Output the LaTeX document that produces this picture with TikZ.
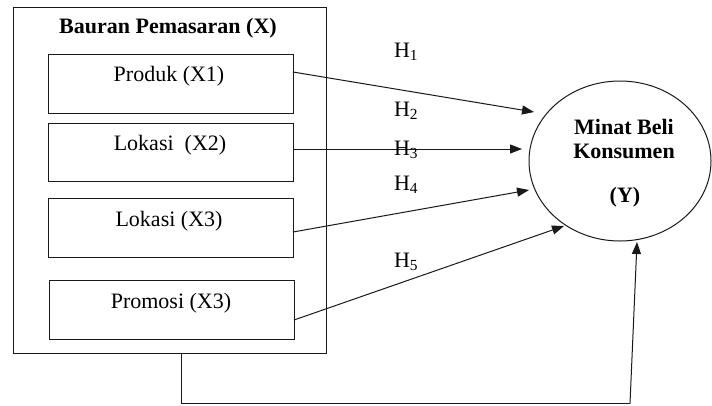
\documentclass[tikz,border=0pt]{standalone}
\usepackage{fontspec}
\setmainfont{Liberation Serif}
\usetikzlibrary{shapes.geometric,arrows.meta}
\begin{document}
\begin{tikzpicture}[x=1pt,y=-1pt,
  every node/.style={inner sep=0pt,outer sep=0pt},
  ln/.style={line width=1pt,draw=black!90},
  boxnode/.style={ln,rectangle,minimum width=245pt},
  txt/.style={font=\fontsize{22}{26}\selectfont},
  btxt/.style={font=\fontsize{22}{26}\selectfont\bfseries},
  arr/.style={ln,-{Triangle[length=12pt,width=9pt]}},
  hl/.style={font=\fontsize{22}{26}\selectfont,anchor=west}]
\useasboundingbox (0,0) rectangle (712,405);
\fill[white] (0,0) rectangle (712,405);
% outer box
\node[ln,rectangle,minimum width=313pt,minimum height=346pt] (outer) at (169.5,180) {};
\node[btxt] (title) at (168,28) {Bauran Pemasaran (X)};
% inner boxes
\node[boxnode,minimum height=59pt] (b1) at (170.5,83.5) {};
\node[boxnode,minimum height=58pt] (b2) at (170.5,152) {};
\node[boxnode,minimum height=59pt] (b3) at (170.5,227.5) {};
\node[boxnode,minimum height=59pt] (b4) at (171.5,309.5) {};
\node[txt] (t1) at (169,76) {Produk (X1)};
\node[txt] (t2) at (170,145) {Lokasi\ \ (X2)};
\node[txt] (t3) at (169,221) {Lokasi (X3)};
\node[txt] (t4) at (171,303) {Promosi (X3)};
% ellipse
\node[ln,ellipse,minimum width=182pt,minimum height=160pt] (y) at (620,161) {};
\node[btxt,align=center] (ytxt) at (624,139) {Minat Beli\\[-2pt]Konsumen};
\node[btxt] (yy) at (625,197) {(Y)};
% arrow ends
\coordinate (e1) at (534,112);
\coordinate (e2) at (522,149);
\coordinate (e3) at (529,190);
\coordinate (e4) at (564,226);
\draw[arr] ([yshift=11.5pt]b1.east) -- (e1);
\draw[arr] ([yshift=3pt]b2.east) -- (e2);
\draw[arr] ([yshift=-4.5pt]b3.east) -- (e3);
\draw[arr] ([yshift=-10.5pt]b4.east) -- (e4);
% labels
\node[hl] (h1) at (394,52) {H\textsubscript{1}};
\node[hl] (h2) at (394,111) {H\textsubscript{2}};
\node[hl] (h3) at (394,150) {H\textsubscript{3}};
\node[hl] (h4) at (394,185) {H\textsubscript{4}};
\node[hl] (h5) at (394,262) {H\textsubscript{5}};
% bottom connector
\coordinate (c1) at (181,403.5);
\coordinate (c2) at (630,403.5);
\coordinate (e5) at (637,242);
\draw[ln] ([xshift=11.5pt]outer.south) -- (c1) -- (c2);
\draw[arr] (c2) -- (e5);
\end{tikzpicture}
\end{document}
